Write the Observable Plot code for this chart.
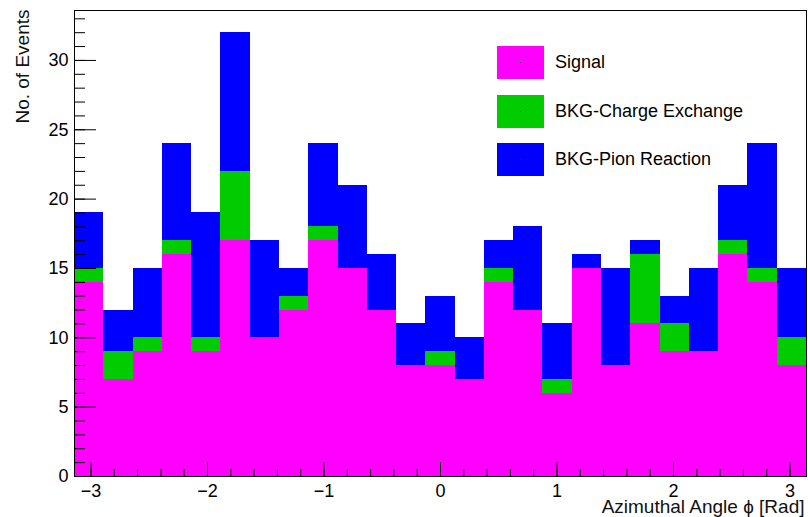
<!DOCTYPE html>
<html>
<head>
<meta charset="utf-8">
<script src="https://cdn.jsdelivr.net/npm/d3@7"></script>
<script src="https://cdn.jsdelivr.net/npm/@observablehq/plot@0.6"></script>
<style>
  html, body { margin: 0; padding: 0; background: #fff; }
  #wrap { position: relative; width: 808px; height: 517px; font-family: "Liberation Sans", Arial, Helvetica, sans-serif; }
  #legend { position: absolute; left: 497px; top: 46px; }
  .item { position: relative; height: 33px; margin-bottom: 15.5px; display: flex; align-items: center; }
  .swatch { position: relative; width: 47px; height: 33px; }
  .swatch .dot { position: absolute; left: 23px; top: 16px; width: 1px; height: 1px; background: #333; }
  .name { margin-left: 11px; font-size: 18px; color: #000; white-space: nowrap; }
</style>
</head>
<body>
<div id="wrap"><div id="legend"></div></div>
<script>
// Azimuthal angle histogram: 25 bins over [-π, π], three stacked contributions
const nBins = 25;
const seriesNames = ["Signal", "BKG-Charge Exchange", "BKG-Pion Reaction"];
const seriesColors = ["#ff00ff", "#00cc00", "#0000ff"];

const signal         = [14, 7, 9, 16, 9, 17, 10, 12, 17, 15, 12, 8, 8, 7, 14, 12, 6, 15, 8, 11, 9, 9, 16, 14, 8];
const chargeExchange = [1, 2, 1, 1, 1, 5, 0, 1, 1, 0, 0, 0, 1, 0, 1, 0, 1, 0, 0, 5, 2, 0, 1, 1, 2];
const pionReaction   = [4, 3, 5, 7, 9, 10, 7, 2, 6, 6, 4, 3, 4, 3, 2, 6, 4, 1, 7, 1, 2, 6, 4, 9, 5];

const xMajorTicks = [-3, -2, -1, 0, 1, 2, 3];
const xMinorTicks = d3.range(-30, 31, 2).map(v => v / 10);
const yMajorTicks = [0, 5, 10, 15, 20, 25, 30];
const yMinorTicks = d3.range(0, 34);

const W = 808, H = 517;
const M = { top: 10, right: 2, bottom: 41, left: 74 };
const innerW = W - M.left - M.right;
const innerH = H - M.top - M.bottom;

const binWidth = 2 * Math.PI / nBins;
const counts = [signal, chargeExchange, pionReaction];
const rows = [];
for (let i = 0; i < nBins; i++) {
  counts.forEach((arr, s) => {
    rows.push({
      x1: -Math.PI + i * binWidth,
      x2: -Math.PI + (i + 1) * binWidth,
      series: seriesNames[s],
      count: arr[i]
    });
  });
}

const maxTotal = d3.max(d3.range(nBins), i => signal[i] + chargeExchange[i] + pionReaction[i]);
const fmt = d => (d < 0 ? "\u2212" : "") + Math.abs(d);

const chart = Plot.plot({
  width: W,
  height: H,
  marginLeft: M.left,
  marginRight: M.right,
  marginTop: M.top,
  marginBottom: M.bottom,
  style: { fontFamily: "Liberation Sans, Arial, Helvetica, sans-serif", fontSize: "18px", color: "#000", background: "#fff" },
  x: { domain: [-Math.PI, Math.PI] },
  y: { domain: [0, maxTotal * 1.05] },
  color: { domain: seriesNames, range: seriesColors },
  marks: [
    Plot.rectY(rows, { x1: "x1", x2: "x2", y: "count", fill: "series", shapeRendering: "crispEdges" }),
    // inward ticks along the bottom and left edges
    Plot.tickX(xMinorTicks, { x: d => d, insetTop: innerH - 7, stroke: "#000", strokeWidth: 1 }),
    Plot.tickX(xMajorTicks, { x: d => d, insetTop: innerH - 14, stroke: "#000", strokeWidth: 1 }),
    Plot.tickY(yMinorTicks, { y: d => d, insetRight: innerW - 11, stroke: "#000", strokeWidth: 1 }),
    Plot.tickY(yMajorTicks, { y: d => d, insetRight: innerW - 22, stroke: "#000", strokeWidth: 1 }),
    // tick labels
    Plot.axisX({ ticks: xMajorTicks, tickSize: 0, tickPadding: 8, tickFormat: fmt, fontSize: 18, label: null }),
    Plot.axisY({ ticks: yMajorTicks, tickSize: 0, tickPadding: 6, tickFormat: fmt, fontSize: 18, label: null }),
    Plot.frame({ stroke: "#000", strokeWidth: 1 }),
    // axis titles
    Plot.text(["Azimuthal Angle ϕ [Rad]"], { frameAnchor: "bottom-right", textAnchor: "end", lineAnchor: "middle", dx: -2, dy: 30, fontSize: 19, fill: "#111" }),
    Plot.text(["No. of Events"], { frameAnchor: "top-left", textAnchor: "end", lineAnchor: "middle", rotate: -90, dx: -52, dy: -1, fontSize: 19, fill: "#111" })
  ]
});

document.getElementById("wrap").prepend(chart);

// legend boxes
const legend = d3.select("#legend");
seriesNames.forEach((name, i) => {
  const item = legend.append("div").attr("class", "item");
  item.append("div").attr("class", "swatch").style("background", seriesColors[i])
    .append("div").attr("class", "dot");
  item.append("div").attr("class", "name").text(name);
});
</script>
</body>
</html>
